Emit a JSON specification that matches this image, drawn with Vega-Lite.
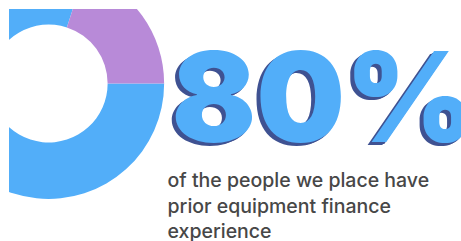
{
  "$schema": "https://vega.github.io/schema/vega-lite/v6.json",
  "width": 461,
  "height": 241,
  "autosize": {"type": "fit", "contains": "padding"},
  "padding": {"left": 9, "top": 9, "right": 0, "bottom": 0},
  "background": "white",
  "config": {"view": {"stroke": null}},
  "datasets": {
    "share": [
      {"group": "prior equipment finance experience", "value": 80, "order": 1},
      {"group": "other", "value": 20, "order": 2}
    ],
    "headline": [{"label": "80%"}],
    "caption": [{"label": ["of the people we place have", "prior equipment finance", "experience"]}]
  },
  "encoding": {
    "x": {"datum": 0, "type": "quantitative", "scale": {"domain": [0, 452], "nice": false, "zero": false}, "axis": null},
    "y": {"datum": 0, "type": "quantitative", "scale": {"domain": [0, 232], "nice": false, "zero": false, "reverse": true}, "axis": null}
  },
  "layer": [
    {
      "data": {"name": "share"},
      "mark": {"type": "arc", "outerRadius": 115.5, "innerRadius": 59, "clip": true},
      "encoding": {
        "x": {"datum": 41, "type": "quantitative"},
        "y": {"datum": 74.5, "type": "quantitative"},
        "theta": {"field": "value", "type": "quantitative", "stack": true, "scale": {"range": [1.5708, 7.854]}},
        "order": {"field": "order", "type": "quantitative"},
        "color": {"field": "group", "type": "nominal", "legend": null, "scale": {"domain": ["prior equipment finance experience", "other"], "range": ["#52aef9", "#b88ad8"]}}
      }
    },
    {
      "data": {"name": "headline"},
      "mark": {"type": "text", "align": "left", "baseline": "alphabetic", "font": "Inter", "fontWeight": 900, "fontSize": 125, "color": "#3f5292", "dx": -4, "dy": 3},
      "encoding": {"x": {"datum": 168, "type": "quantitative"}, "y": {"datum": 133, "type": "quantitative"}, "text": {"field": "label"}}
    },
    {
      "data": {"name": "headline"},
      "mark": {"type": "text", "align": "left", "baseline": "alphabetic", "font": "Inter", "fontWeight": 900, "fontSize": 125, "color": "#3f5292", "dx": -2, "dy": 1.5},
      "encoding": {"x": {"datum": 168, "type": "quantitative"}, "y": {"datum": 133, "type": "quantitative"}, "text": {"field": "label"}}
    },
    {
      "data": {"name": "headline"},
      "mark": {"type": "text", "align": "left", "baseline": "alphabetic", "font": "Inter", "fontWeight": 900, "fontSize": 125, "color": "#52aef9"},
      "encoding": {"x": {"datum": 168, "type": "quantitative"}, "y": {"datum": 133, "type": "quantitative"}, "text": {"field": "label"}}
    },
    {
      "data": {"name": "caption"},
      "mark": {"type": "text", "align": "left", "baseline": "alphabetic", "font": "Inter", "fontWeight": 500, "fontSize": 19.5, "lineHeight": 25.5, "color": "#474747"},
      "encoding": {"x": {"datum": 164, "type": "quantitative"}, "y": {"datum": 178, "type": "quantitative"}, "text": {"field": "label"}}
    }
  ]
}
